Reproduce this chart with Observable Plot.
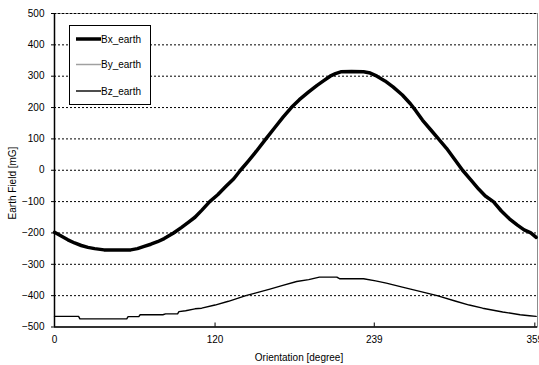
<!DOCTYPE html>
<html>
<head>
<meta charset="utf-8">
<script src="https://cdn.jsdelivr.net/npm/d3@7"></script>
<script src="https://cdn.jsdelivr.net/npm/@observablehq/plot@0.6"></script>
<style>
  html, body { margin: 0; padding: 0; background: #fff; }
  #chart svg { display: block; }
</style>
</head>
<body>
<div id="chart"></div>
<script>
// Orientation (degree) and Bx_earth (mG)
const bxDeg = [0,5,10,15,20,25,30,37,45,57,62,67,72,77,82,89,95,100,105,110,116,122,128,134,139,145,150,158,165,171,177,183,190,196,201,206,210,214,222,231,236,241,247,253,260,266,270,275,281,287,293,299,305,311,317,322,328,334,340,346,351,356,360];
const bxVal = [-198,-210,-222,-232,-240,-246,-250,-254,-254,-254,-250,-243,-236,-228,-218,-200,-182,-166,-150,-128,-100,-78,-52,-27,0,30,56,100,138,170,200,225,250,270,285,300,308,314,315,314,310,300,285,266,240,212,190,160,130,100,70,35,0,-30,-60,-82,-100,-130,-155,-175,-190,-200,-214];
// Orientation (degree) and Bz_earth (mG)
const bzDeg = [0,18,19,54,55,63,64,81,83,92,93,98,105,110,120,130,143,150,161,170,181,190,198,211,213,231,240,248,260,270,286,300,310,320,335,348,355,360];
const bzVal = [-466,-466,-474,-474,-467,-467,-461,-461,-458,-458,-451,-448,-442,-440,-430,-418,-400,-392,-379,-368,-355,-349,-341,-341,-346,-346,-353,-360,-373,-383,-400,-418,-430,-440,-452,-461,-464,-466];
// By_earth: listed in legend, no visible trace in the plot
const byDeg = [];
const byVal = [];

const xTicks = [0, 120, 239, 359];
const yTicks = [-500,-400,-300,-200,-100,0,100,200,300,400,500];
const gridTicks = [-400,-300,-200,-100,0,100,200,300,400,500];
const seriesNames = ["Bx_earth", "By_earth", "Bz_earth"];

const bx = bxDeg.map((d, i) => ({deg: d, v: bxVal[i]}));
const bz = bzDeg.map((d, i) => ({deg: d, v: bzVal[i]}));
const by = byDeg.map((d, i) => ({deg: d, v: byVal[i]}));

const W = 539, H = 365;
const chart = Plot.plot({
  width: W,
  height: H,
  marginLeft: 54,
  marginRight: 2,
  marginTop: 13,
  marginBottom: 38.5,
  style: {fontFamily: "'Liberation Sans', Arial, sans-serif", fontSize: "10px", background: "#fff", color: "#000"},
  x: {domain: [0, 361], ticks: xTicks, label: null},
  y: {domain: [-500, 500], ticks: yTicks, label: null},
  marks: [
    Plot.frame({stroke: "#8c8c8c", strokeWidth: 1}),
    Plot.ruleY(gridTicks, {stroke: "#000", strokeWidth: 1, strokeDasharray: "2,2"}),
    Plot.ruleY([-500], {stroke: "#000", strokeWidth: 1.5}),
    Plot.ruleX([0], {stroke: "#000", strokeWidth: 1.5}),
    Plot.tickX(xTicks, {x: d => d, stroke: "#000", insetTop: 309.5}),
    Plot.axisX({ticks: xTicks, tickSize: 0, tickPadding: 9, fontSize: 10}),
    Plot.axisY({ticks: yTicks, tickSize: 3, tickPadding: 7, fontSize: 10}),
    Plot.line(by, {x: "deg", y: "v", stroke: "#a0a0a0", strokeWidth: 1.5}),
    Plot.line(bz, {x: "deg", y: "v", stroke: "#000", strokeWidth: 1.4}),
    Plot.line(bx, {x: "deg", y: "v", stroke: "#000", strokeWidth: 3.5})
  ]
});

const svg = d3.select(chart);
// Axis titles
svg.append("text")
  .attr("x", 299).attr("y", 361)
  .attr("text-anchor", "middle")
  .attr("font-size", 10)
  .text("Orientation [degree]");
svg.append("text")
  .attr("transform", "translate(16,183) rotate(-90)")
  .attr("text-anchor", "middle")
  .attr("font-size", 10)
  .text("Earth Field [mG]");

// Legend
const lg = svg.append("g").attr("text-anchor", "start");
lg.append("rect").attr("x", 69.5).attr("y", 25.5).attr("width", 81).attr("height", 79)
  .attr("fill", "#fff").attr("stroke", "#000").attr("stroke-width", 1);
const legStyles = [
  {stroke: "#000", w: 3.5},
  {stroke: "#a0a0a0", w: 1.5},
  {stroke: "#000", w: 1.4}
];
const legY = [39, 64.5, 91];
seriesNames.forEach((name, i) => {
  lg.append("line").attr("x1", 76).attr("x2", 101).attr("y1", legY[i]).attr("y2", legY[i])
    .attr("stroke", legStyles[i].stroke).attr("stroke-width", legStyles[i].w);
  lg.append("text").attr("x", 101).attr("y", legY[i] + 3.5)
    .attr("text-anchor", "start")
    .attr("font-size", 10).text(name);
});

document.getElementById("chart").appendChild(chart);
</script>
</body>
</html>
